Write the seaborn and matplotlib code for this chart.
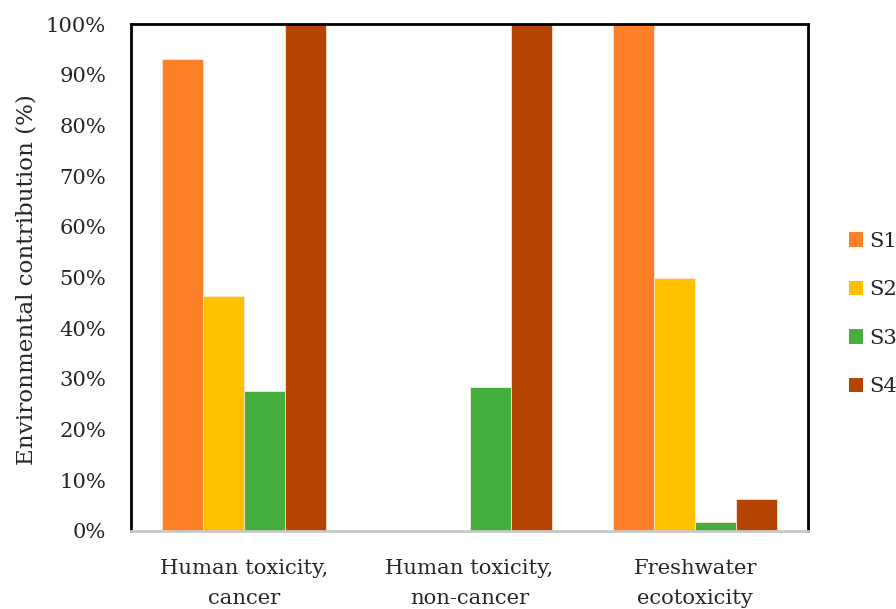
import matplotlib
matplotlib.use("Agg")
import matplotlib.pyplot as plt
import seaborn as sns
import pandas as pd
from matplotlib.patches import Patch
from matplotlib.ticker import FuncFormatter, MultipleLocator

# Impact categories and scenario contributions (%)
categories = ["Human toxicity,\ncancer", "Human toxicity,\nnon-cancer", "Freshwater\necotoxicity"]
scenarios = ["S1", "S2", "S3", "S4"]
s1 = [93.0, 0.0, 100.0]
s2 = [46.4, 0.0, 49.9]
s3 = [27.6, 28.4, 1.7]
s4 = [100.0, 100.0, 6.4]
colors = ["#FF7F27", "#FFC000", "#44AF3C", "#B54500"]

rows = []
for name, vals in zip(scenarios, [s1, s2, s3, s4]):
    for cat, v in zip(categories, vals):
        rows.append({"category": cat, "scenario": name, "value": v})
df = pd.DataFrame(rows)

sns.set_theme(style="white")
plt.rcParams["font.family"] = ["DejaVu Serif"]

fig = plt.figure(figsize=(8.96, 6.09), dpi=100)
ax = fig.add_axes([131 / 896, 78 / 609, 677 / 896, 507 / 609])

sns.barplot(data=df, x="category", y="value", hue="scenario", order=categories,
            hue_order=scenarios, palette=colors, width=0.727, saturation=1,
            edgecolor="#f6e6da", linewidth=0.6, ax=ax, legend=False)

ax.set_ylim(0, 100)
ax.set_xlim(-0.5, 2.5)
ax.yaxis.set_major_locator(MultipleLocator(10))
ax.yaxis.set_major_formatter(FuncFormatter(lambda v, p: f"{v:.0f}%"))
ax.set_xlabel("")
ax.set_ylabel("Environmental contribution (%)", fontsize=16.6)
ax.yaxis.set_label_coords(-0.138, 0.495)
ax.tick_params(axis="y", labelsize=15.2, length=0, pad=18)
ax.tick_params(axis="x", labelsize=15.2, length=0, pad=20)
for lab in ax.get_xticklabels():
    lab.set_linespacing(1.75)

for side in ["left", "top", "right"]:
    ax.spines[side].set_color("black")
    ax.spines[side].set_linewidth(2)
ax.spines["bottom"].set_color("#c8c8c8")
ax.spines["bottom"].set_linewidth(2)
ax.grid(False)

handles = [Patch(facecolor=c, edgecolor="none", label=s) for c, s in zip(colors, scenarios)]
fig.legend(handles=handles, loc="center left", bbox_to_anchor=(849 / 896, 1 - 314 / 609),
           frameon=False, fontsize=15.2, handlelength=0.68, handleheight=0.68,
           handletextpad=0.3, labelspacing=1.4, borderaxespad=0, borderpad=0)

fig.savefig("out.png", dpi=100)
